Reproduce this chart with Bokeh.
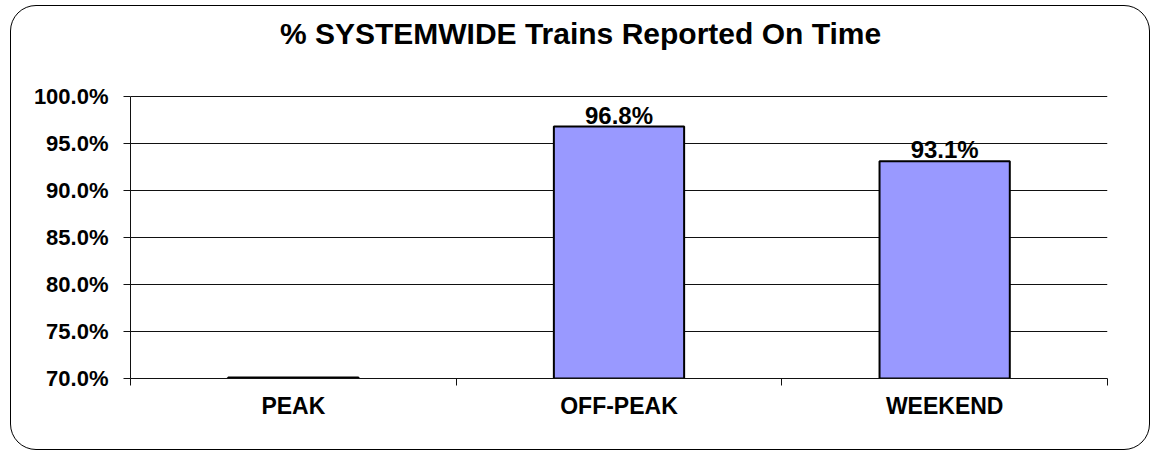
from bokeh.plotting import figure
from bokeh.models import (Range1d, LinearAxis, FixedTicker,
                          PrintfTickFormatter, ColumnDataSource)
from bokeh.core.properties import value
from bokeh.embed import file_html
from bokeh.resources import INLINE

# ---- data ----
categories = ["PEAK", "OFF-PEAK", "WEEKEND"]
on_time_pct = [70.1, 96.8, 93.1]          # PEAK sits right on the axis floor
value_labels = ["", "96.8%", "93.1%"]     # PEAK shows no data label
y_min, y_max = 70.0, 100.0
y_ticks = [70, 75, 80, 85, 90, 95, 100]
title_text = "% SYSTEMWIDE Trains Reported On Time"

# ---- layout (pixels) ----
W, H = 1140, 445
BORDER_L, BORDER_R, BORDER_B = 119, 44, 73
PLOT_TOP = 90          # where the 100% line sits, from canvas top
FRAME_TOP = 6          # frame is extended upward to hold the title
TITLE_CX = 450         # title centre, px from plot-area left
TITLE_CY = 63          # title middle, px above the 100% line

n = len(categories)
centers = [i + 0.5 for i in range(n)]          # category slot centres
src = ColumnDataSource(dict(x=centers, val=on_time_pct, lab=value_labels))

plot_px = H - PLOT_TOP - BORDER_B
frame_px = H - FRAME_TOP - BORDER_B
plot_w = W - BORDER_L - BORDER_R
units_per_px = (y_max - y_min) / plot_px
y_view_top = y_min + frame_px * units_per_px

FONT = "Liberation Sans"

p = figure(
    width=W, height=H,
    x_range=Range1d(0, n),
    y_range=Range1d(y_min, y_view_top),
    x_axis_location=None,
    output_backend="svg", toolbar_location=None,
    min_border_left=BORDER_L, min_border_right=BORDER_R,
    min_border_top=FRAME_TOP, min_border_bottom=BORDER_B,
)
p.styles = {"border": "1px solid #000000", "border-radius": "26px",
            "margin-left": "10px", "margin-top": "5px"}
p.border_fill_color = None
p.background_fill_color = "white"
p.outline_line_color = None
p.xgrid.grid_line_color = None

# y axis (line limited to the value range)
yax = p.yaxis[0]
yax.bounds = (y_min, y_max)
yax.ticker = FixedTicker(ticks=y_ticks)
yax.formatter = PrintfTickFormatter(format="%.1f%%")
yax.major_label_text_font = FONT
yax.major_label_text_font_size = "22px"
yax.major_label_text_font_style = "bold"
yax.major_label_text_color = "black"
yax.major_tick_out = 7
yax.major_tick_in = 0
yax.minor_tick_line_color = None
yax.axis_line_color = "#111111"
yax.major_tick_line_color = "#111111"
yax.major_label_standoff = 15

p.ygrid.grid_line_color = "#111111"
p.ygrid.ticker = FixedTicker(ticks=y_ticks)

# x axis: tick marks on category boundaries
bounds = list(range(n + 1))
bax = LinearAxis(ticker=FixedTicker(ticks=bounds),
                 major_label_overrides={b: "" for b in bounds},
                 major_label_text_font_size="1px",
                 major_label_standoff=0,
                 major_tick_out=7, major_tick_in=0,
                 minor_tick_line_color=None,
                 axis_line_color="#111111", major_tick_line_color="#111111")
p.add_layout(bax, "below")

# x axis: category names at slot centres
cax = LinearAxis(ticker=FixedTicker(ticks=centers),
                 major_label_overrides={c: name for c, name in zip(centers, categories)},
                 axis_line_color=None, major_tick_line_color=None,
                 minor_tick_line_color=None,
                 major_label_text_font=FONT,
                 major_label_text_font_size="23px",
                 major_label_text_font_style="bold",
                 major_label_text_color="black",
                 major_label_standoff=1)
p.add_layout(cax, "below")

# bars
p.vbar(x="x", top="val", bottom=y_min, width=0.4, source=src,
       fill_color="#9999FF", line_color="black", line_width=2)

# value labels
p.text(x="x", y="val", text="lab", source=src,
       text_align="center", text_baseline="bottom", y_offset=2,
       text_font=value(FONT), text_font_size="24px", text_font_style="bold",
       text_color="black")

# chart title
tsrc = ColumnDataSource(dict(x=[n * TITLE_CX / plot_w],
                             y=[y_max + TITLE_CY * units_per_px],
                             t=[title_text]))
p.text(x="x", y="y", text="t", source=tsrc,
       text_align="center", text_baseline="middle",
       text_font=value(FONT), text_font_size="30px", text_font_style="bold",
       text_color="black")

open("out.html", "w").write(file_html(p, INLINE))
